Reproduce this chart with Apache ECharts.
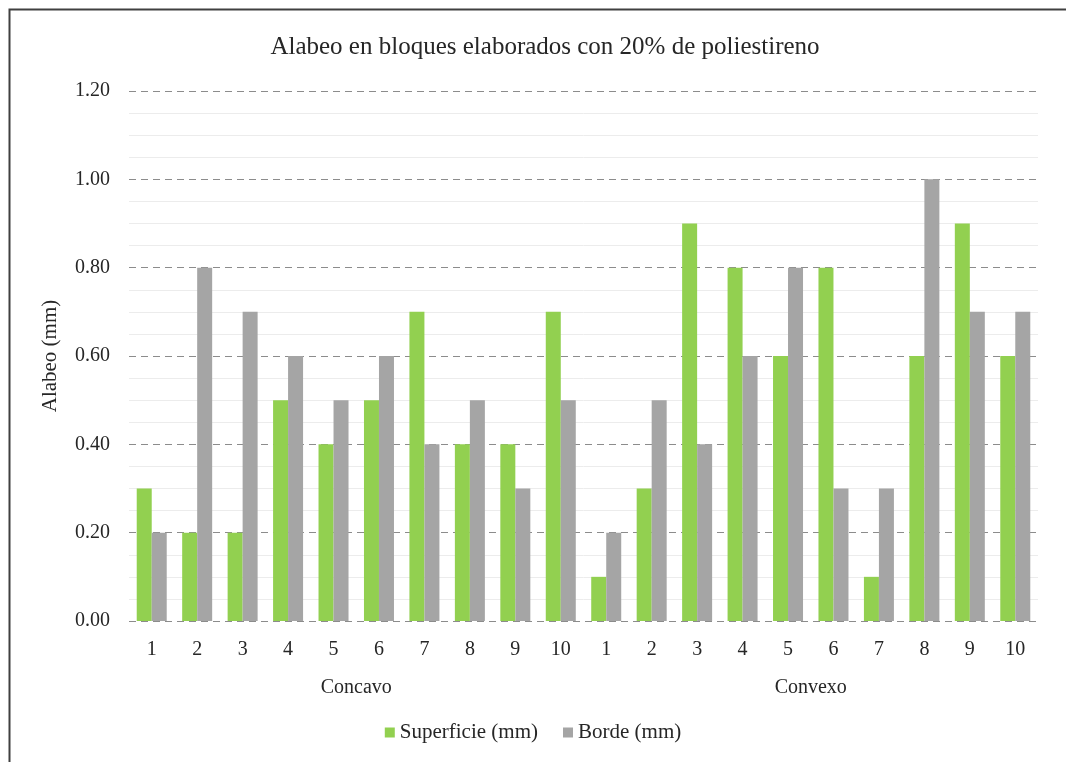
<!DOCTYPE html>
<html>
<head>
<meta charset="utf-8">
<script src="https://cdn.jsdelivr.net/npm/echarts@6/dist/echarts.min.js"></script>
<style>
  html, body { margin: 0; padding: 0; background: #fff; }
  #chart { width: 1066px; height: 762px; }
</style>
</head>
<body>
<div id="chart"></div>
<script>
// Block numbers shown under each bar pair, and the two warp groups
const blockLabels = ['1', '2', '3', '4', '5', '6', '7', '8', '9', '10'];
const groups = ['Concavo', 'Convexo'];

// Warp measurements (mm): concave blocks first, then convex blocks
const superficieConcavo = [0.30, 0.20, 0.20, 0.50, 0.40, 0.50, 0.70, 0.40, 0.40, 0.70];
const superficieConvexo = [0.10, 0.30, 0.90, 0.80, 0.60, 0.80, 0.10, 0.60, 0.90, 0.60];
const bordeConcavo = [0.20, 0.80, 0.70, 0.60, 0.50, 0.60, 0.40, 0.50, 0.30, 0.50];
const bordeConvexo = [0.20, 0.50, 0.40, 0.60, 0.80, 0.30, 0.30, 1.00, 0.70, 0.70];

const yTicks = [0, 0.2, 0.4, 0.6, 0.8, 1.0, 1.2];

// One category slot per block, unique keys so repeated numbers stay distinct
const slots = [];
groups.forEach(g => blockLabels.forEach(b => slots.push(g + '-' + b)));

const font = '"Liberation Serif", "Times New Roman", serif';
const chart = echarts.init(document.getElementById('chart'));

chart.setOption({
  backgroundColor: '#ffffff',
  animation: false,
  textStyle: { fontFamily: font, color: '#262626' },
  title: {
    text: 'Alabeo en bloques elaborados con 20% de poliestireno',
    left: 540, top: 30, textAlign: 'center',
    textStyle: { fontFamily: font, fontSize: 25, fontWeight: 'normal', color: '#262626' }
  },
  legend: {
    bottom: 14, left: 'center',
    itemWidth: 10, itemHeight: 10, itemGap: 25,
    icon: 'rect',
    textStyle: { fontFamily: font, fontSize: 21, color: '#262626' },
    data: ['Superficie (mm)', 'Borde (mm)']
  },
  grid: { left: 129, right: 28, top: 91, bottom: 141 },
  xAxis: [
    {
      type: 'category',
      data: slots,
      axisLine: { show: false },
      axisTick: { show: false },
      axisLabel: {
        interval: 0, margin: 19,
        fontFamily: font, fontSize: 20, color: '#262626',
        formatter: (v, i) => blockLabels[i % blockLabels.length]
      }
    },
    {
      type: 'category',
      data: groups,
      position: 'bottom',
      offset: 40,
      axisLine: { show: false },
      axisTick: { show: false },
      splitLine: { show: false },
      axisLabel: { interval: 0, margin: 17, fontFamily: font, fontSize: 20, color: '#262626' }
    }
  ],
  yAxis: {
    type: 'value',
    min: yTicks[0], max: yTicks[yTicks.length - 1], interval: 0.2,
    name: 'Alabeo (mm)',
    nameLocation: 'middle', nameGap: 68, nameRotate: 90,
    nameTextStyle: { fontFamily: font, fontSize: 21, color: '#262626' },
    axisLine: { show: false },
    axisTick: { show: false },
    axisLabel: {
      margin: 19, fontFamily: font, fontSize: 20, color: '#262626',
      formatter: v => v.toFixed(2)
    },
    splitLine: { show: true, lineStyle: { color: '#8c8c8c', width: 1, type: [7, 5] } },
    minorTick: { show: false, splitNumber: 4 },
    minorSplitLine: { show: true, lineStyle: { color: '#ececec', width: 1 } }
  },
  series: [
    {
      name: 'Superficie (mm)', type: 'bar',
      xAxisIndex: 0,
      data: superficieConcavo.concat(superficieConvexo),
      itemStyle: { color: '#92D050' },
      barGap: '0%', barCategoryGap: '34%'
    },
    {
      name: 'Borde (mm)', type: 'bar',
      xAxisIndex: 0,
      data: bordeConcavo.concat(bordeConvexo),
      itemStyle: { color: '#A5A5A5' },
      barGap: '0%', barCategoryGap: '34%'
    }
  ],
  graphic: [
    {
      type: 'rect', silent: true,
      shape: { x: 9.5, y: 9.5, width: 1070, height: 770 },
      style: { fill: 'none', stroke: '#404040', lineWidth: 2 }
    }
  ]
});
</script>
</body>
</html>
